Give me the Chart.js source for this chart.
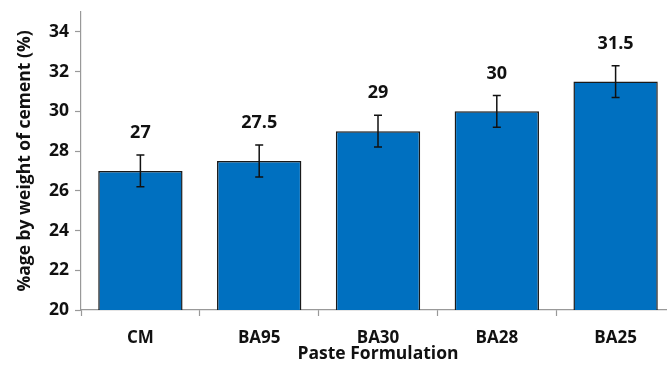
<!DOCTYPE html>
<html>
<head>
<meta charset="utf-8">
<script src="https://cdn.jsdelivr.net/npm/chart.js@4.4.0/dist/chart.umd.min.js"></script>
<style>
  html, body { margin: 0; padding: 0; background: #fff; overflow: hidden; }
  #wrap { width: 675px; height: 365px; position: relative; }
</style>
</head>
<body>
<div id="wrap"><canvas id="chart"></canvas></div>
<script>
// Paste formulation chart
const categories = ['CM', 'BA95', 'BA30', 'BA28', 'BA25'];
const values = [27, 27.5, 29, 30, 31.5];
const errors = [0.8, 0.8, 0.8, 0.8, 0.8];
const yTicks = [20, 22, 24, 26, 28, 30, 32, 34];

const FONT = '"Open Sans", sans-serif';

// Error bars and value labels drawn on top of the bars
const errorBarPlugin = {
  id: 'errorBars',
  afterDatasetsDraw(chart) {
    const ctx = chart.ctx;
    const meta = chart.getDatasetMeta(0);
    const y = chart.scales.y;
    ctx.save();
    meta.data.forEach((bar, i) => {
      const x = bar.x;
      const top = y.getPixelForValue(values[i] + errors[i]);
      const bottom = y.getPixelForValue(values[i] - errors[i]);
      ctx.strokeStyle = '#111';
      ctx.lineWidth = 1.5;
      ctx.beginPath();
      ctx.moveTo(x, top); ctx.lineTo(x, bottom);
      ctx.moveTo(x - 4, top); ctx.lineTo(x + 4, top);
      ctx.moveTo(x - 4, bottom); ctx.lineTo(x + 4, bottom);
      ctx.stroke();
      ctx.fillStyle = '#111';
      ctx.font = 'bold 18px ' + FONT;
      ctx.textAlign = 'center';
      ctx.textBaseline = 'middle';
      ctx.fillText(String(values[i]), x, top - 22);
    });
    ctx.restore();
  }
};

new Chart(document.getElementById('chart').getContext('2d'), {
  type: 'bar',
  data: {
    labels: categories,
    datasets: [{
      data: values,
      backgroundColor: '#0070C0',
      borderColor: '#1a1a1a',
      borderWidth: 1.5,
      categoryPercentage: 1,
      barPercentage: 0.71
    }]
  },
  options: {
    responsive: true,
    maintainAspectRatio: false,
    animation: false,
    layout: { padding: { left: 15, top: 12, right: 0, bottom: 0 } },
    plugins: {
      legend: { display: false },
      tooltip: { enabled: false }
    },
    scales: {
      x: {
        offset: true,
        grid: { display: true, drawOnChartArea: false, offset: true, color: '#999', tickLength: 6, tickWidth: 1.2 },
        border: { color: '#999', width: 1.2 },
        ticks: { color: '#111', font: { family: FONT, size: 17, weight: 'bold' }, padding: 12, maxRotation: 0 },
        title: { display: true, text: 'Paste Formulation', color: '#111', font: { family: FONT, size: 17.5, weight: 'bold' }, padding: 0 },
        afterFit(scale) { scale.height = 55; scale.paddingLeft = 0; scale.paddingRight = 0; }
      },
      y: {
        min: 20,
        max: 35,
        grid: { display: true, drawOnChartArea: false, color: '#999', tickLength: 6, tickWidth: 1.2 },
        border: { color: '#999', width: 1.2 },
        ticks: { stepSize: 2, color: '#111', font: { family: FONT, size: 17.5, weight: 'bold' }, padding: 6 },
        afterBuildTicks(scale) { scale.ticks = yTicks.map(v => ({ value: v })); },
        title: { display: true, text: '%age by weight of cement (%)', color: '#111', font: { family: FONT, size: 17.5, weight: 'bold' }, padding: 0 },
        afterFit(scale) { scale.width = 66; scale.paddingTop = 0; scale.paddingBottom = 0; }
      }
    }
  },
  plugins: [errorBarPlugin]
});
</script>
</body>
</html>
